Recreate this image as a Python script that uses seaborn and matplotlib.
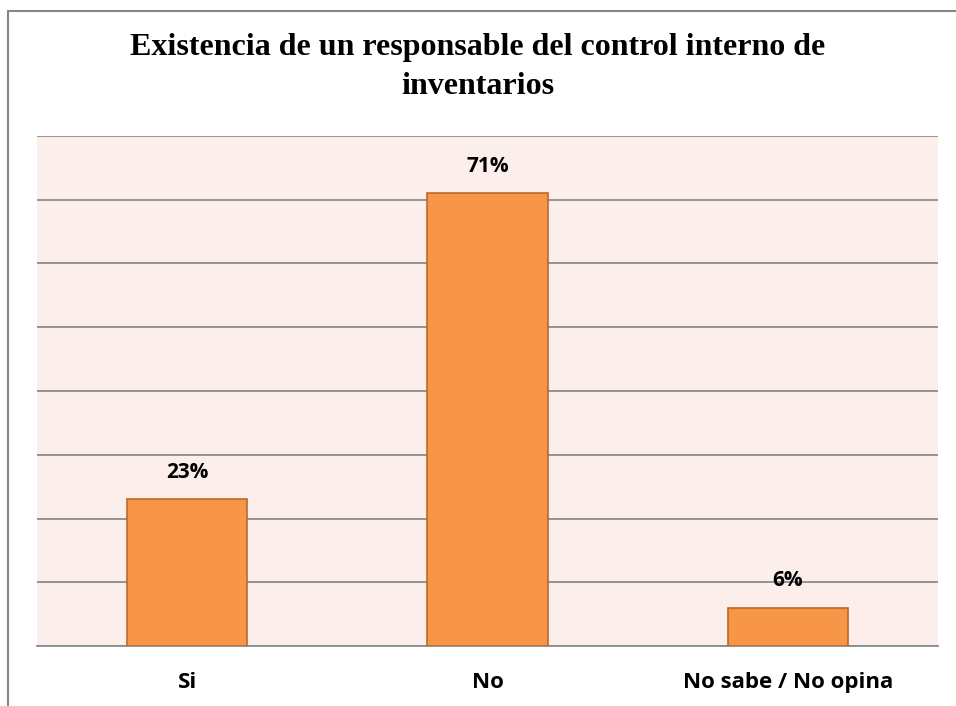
import matplotlib
matplotlib.use("Agg")
import matplotlib.pyplot as plt
import seaborn as sns
import pandas as pd
from matplotlib.patches import Rectangle

# Data
categorias = ["Si", "No", "No sabe / No opina"]
porcentajes = [0.23, 0.71, 0.06]
etiquetas = ["23%", "71%", "6%"]

df = pd.DataFrame({"categoria": categorias, "valor": porcentajes})

sns.set_style("white")
plt.rcParams["text.color"] = "black"
plt.rcParams["xtick.color"] = "black"

fig = plt.figure(figsize=(9.56, 7.06), dpi=100)
ax = fig.add_axes([37 / 956, 1 - 646 / 706, (938 - 37) / 956, (646 - 136) / 706])

# outer chart frame (only left/top visible in original)
fig.patches.append(Rectangle((8 / 956, -0.05), 1.2, 1 - 11 / 706 + 0.05,
                             transform=fig.transFigure, fill=False,
                             edgecolor="#868686", linewidth=1.5))

ax.set_facecolor("#FCEEEA")
sns.barplot(data=df, x="categoria", y="valor", color="#F79646",
            edgecolor="#B9692C", linewidth=1.2, width=0.4, saturation=1,
            ax=ax, zorder=3)

ax.set_ylim(0, 0.8)
ax.set_yticks([i / 10 for i in range(9)])
ax.set_yticklabels([])
ax.yaxis.grid(True, color="#8C8C8C", linewidth=1.3)
ax.set_axisbelow(True)
ax.tick_params(axis="y", length=0)

ax.set_xlim(-0.5, 2.5)
ax.set_xticks(range(3))
ax.set_xticklabels(categorias, fontsize=16, fontweight="bold", family="Open Sans",
                   color="black")
ax.set_xticks([-0.5, 0.5, 1.5, 2.5], minor=True)
ax.tick_params(axis="x", which="major", length=0, pad=19)
ax.tick_params(axis="x", which="minor", length=9, width=1.2, color="#8C8C8C",
               direction="out")
ax.set_xlabel("")
ax.set_ylabel("")

for s in ["left", "right", "top"]:
    ax.spines[s].set_visible(False)
ax.spines["bottom"].set_color("#8C8C8C")
ax.spines["bottom"].set_linewidth(1.3)

for i, (v, t) in enumerate(zip(porcentajes, etiquetas)):
    ax.annotate(t, (i, v), xytext=(0, 12), textcoords="offset points",
                ha="center", va="bottom", fontsize=15, fontweight="bold",
                family="Open Sans", color="black", zorder=4)

fig.text(0.5, 1 - 67 / 706,
         "Existencia de un responsable del control interno de\ninventarios",
         ha="center", va="center", fontsize=23, fontweight="bold",
         family="Liberation Serif", linespacing=1.45, color="black")

fig.savefig("out.png", dpi=100)
